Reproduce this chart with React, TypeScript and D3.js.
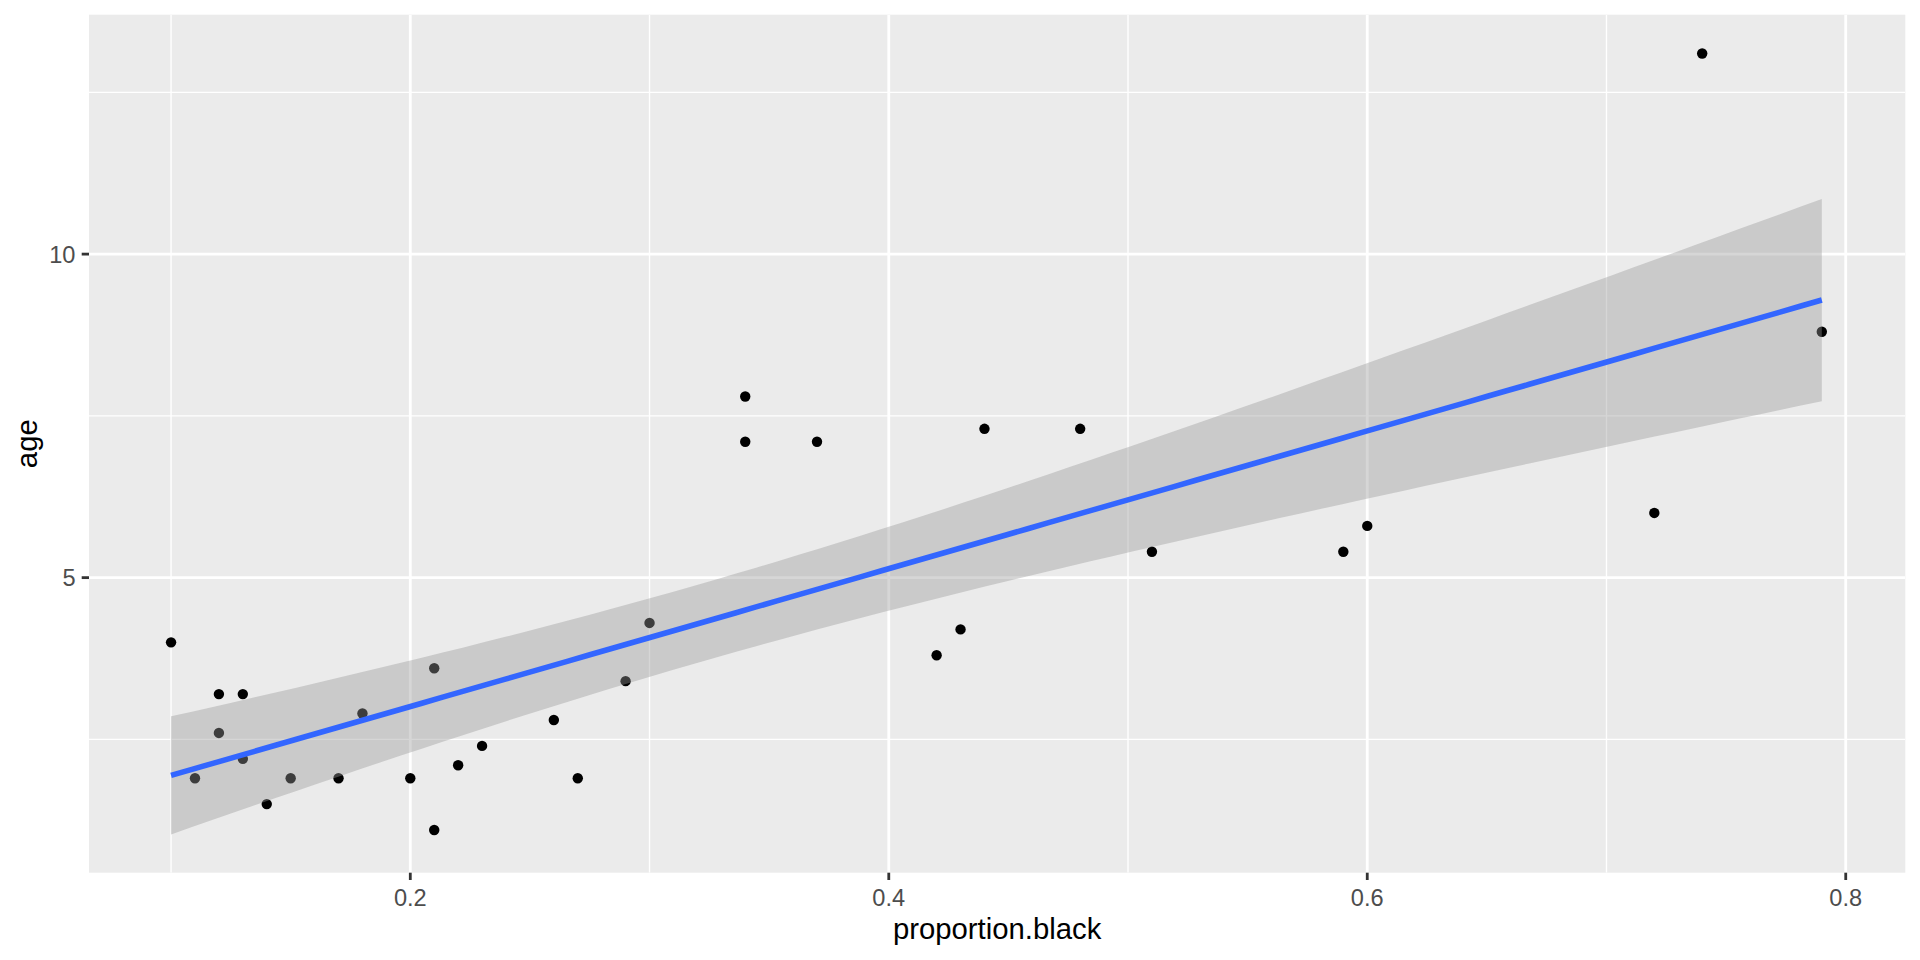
import React from 'react';
import * as d3 from 'd3';

// ---- data ----
const proportionBlack = [
  0.10, 0.11, 0.12, 0.12, 0.13, 0.13, 0.14, 0.15, 0.17, 0.18,
  0.20, 0.21, 0.21, 0.22, 0.23, 0.26, 0.27, 0.29, 0.30, 0.34,
  0.34, 0.37, 0.42, 0.43, 0.44, 0.48, 0.51, 0.59, 0.60, 0.72,
  0.74, 0.79,
];
const age = [
  4.0, 1.9, 3.2, 2.6, 3.2, 2.2, 1.5, 1.9, 1.9, 2.9,
  1.9, 3.6, 1.1, 2.1, 2.4, 2.8, 1.9, 3.4, 4.3, 7.8,
  7.1, 7.1, 3.8, 4.2, 7.3, 7.3, 5.4, 5.4, 5.8, 6.0,
  13.1, 8.8,
];

const xBreaks = [0.2, 0.4, 0.6, 0.8];
const xLabels = ['0.2', '0.4', '0.6', '0.8'];
const xMinorBreaks = [0.1, 0.3, 0.5, 0.7];
const yBreaks = [5, 10];
const yLabels = ['5', '10'];
const yMinorBreaks = [2.5, 7.5, 12.5];

const xTitle = 'proportion.black';
const yTitle = 'age';

const xDomain = [0.0657, 0.8249];
const yDomain = [0.44, 13.7];

// t quantile 0.975 for df = n - 2 = 30
const T975 = 2.0423;

const W = 1920;
const H = 960;
const panel = { left: 89, top: 14.7, right: 1905.3, bottom: 872.7 };
const FONT = '"Liberation Sans", Arial, Helvetica, sans-serif';

function lmBand(xs: number[], ys: number[], nPts = 80) {
  const n = xs.length;
  const mx = d3.mean(xs) as number;
  const my = d3.mean(ys) as number;
  let sxx = 0;
  let sxy = 0;
  for (let i = 0; i < n; i++) {
    sxx += (xs[i] - mx) ** 2;
    sxy += (xs[i] - mx) * (ys[i] - my);
  }
  const b = sxy / sxx;
  const a = my - b * mx;
  let rss = 0;
  for (let i = 0; i < n; i++) rss += (ys[i] - a - b * xs[i]) ** 2;
  const s = Math.sqrt(rss / (n - 2));
  const [lo, hi] = d3.extent(xs) as [number, number];
  return d3.range(nPts).map((i) => {
    const x = lo + ((hi - lo) * i) / (nPts - 1);
    const fit = a + b * x;
    const se = s * Math.sqrt(1 / n + (x - mx) ** 2 / sxx);
    return { x, fit, ymin: fit - T975 * se, ymax: fit + T975 * se };
  });
}

export default function App() {
  const x = d3.scaleLinear().domain(xDomain).range([panel.left, panel.right]);
  const y = d3.scaleLinear().domain(yDomain).range([panel.bottom, panel.top]);
  const band = lmBand(proportionBlack, age);

  const area = d3
    .area<{ x: number; fit: number; ymin: number; ymax: number }>()
    .x((d) => x(d.x))
    .y0((d) => y(d.ymin))
    .y1((d) => y(d.ymax));
  const line = d3
    .line<{ x: number; fit: number }>()
    .x((d) => x(d.x))
    .y((d) => y(d.fit));

  const pw = panel.right - panel.left;
  const ph = panel.bottom - panel.top;

  return (
    <svg
      width={W}
      height={H}
      viewBox={`0 0 ${W} ${H}`}
      style={{ position: 'absolute', left: 0, top: 0, background: '#FFFFFF' }}
    >
      <defs>
        <clipPath id="panelClip">
          <rect x={panel.left} y={panel.top} width={pw} height={ph} />
        </clipPath>
      </defs>
      <rect x={0} y={0} width={W} height={H} fill="#FFFFFF" />
      <rect x={panel.left} y={panel.top} width={pw} height={ph} fill="#EBEBEB" />

      <g clipPath="url(#panelClip)">
        {yMinorBreaks.map((v) => (
          <line key={'ym' + v} x1={panel.left} x2={panel.right} y1={y(v)} y2={y(v)} stroke="#FFFFFF" strokeWidth={1.4} />
        ))}
        {xMinorBreaks.map((v) => (
          <line key={'xm' + v} x1={x(v)} x2={x(v)} y1={panel.top} y2={panel.bottom} stroke="#FFFFFF" strokeWidth={1.4} />
        ))}
        {yBreaks.map((v) => (
          <line key={'yM' + v} x1={panel.left} x2={panel.right} y1={y(v)} y2={y(v)} stroke="#FFFFFF" strokeWidth={2.8} />
        ))}
        {xBreaks.map((v) => (
          <line key={'xM' + v} x1={x(v)} x2={x(v)} y1={panel.top} y2={panel.bottom} stroke="#FFFFFF" strokeWidth={2.8} />
        ))}

        {proportionBlack.map((px, i) => (
          <circle key={'p' + i} cx={x(px)} cy={y(age[i])} r={5.2} fill="#000000" />
        ))}

        <path d={area(band) || ''} fill="#999999" fillOpacity={0.4} stroke="none" />
        <path d={line(band) || ''} fill="none" stroke="#3366FF" strokeWidth={5.6} />
      </g>

      {/* y axis ticks and labels */}
      {yBreaks.map((v, i) => (
        <g key={'yt' + v}>
          <line x1={panel.left - 7.3} x2={panel.left} y1={y(v)} y2={y(v)} stroke="#333333" strokeWidth={2.8} />
          <text
            x={panel.left - 13.5}
            y={y(v) + 8.6}
            textAnchor="end"
            fontFamily={FONT}
            fontSize={23.6}
            fill="#4D4D4D"
          >
            {yLabels[i]}
          </text>
        </g>
      ))}

      {/* x axis ticks and labels */}
      {xBreaks.map((v, i) => (
        <g key={'xt' + v}>
          <line x1={x(v)} x2={x(v)} y1={panel.bottom} y2={panel.bottom + 7.3} stroke="#333333" strokeWidth={2.8} />
          <text
            x={x(v)}
            y={906}
            textAnchor="middle"
            fontFamily={FONT}
            fontSize={23.6}
            fill="#4D4D4D"
          >
            {xLabels[i]}
          </text>
        </g>
      ))}

      <text
        x={(panel.left + panel.right) / 2}
        y={939}
        textAnchor="middle"
        fontFamily={FONT}
        fontSize={29.3}
        fill="#000000"
      >
        {xTitle}
      </text>
      <text
        transform={`translate(37, ${(panel.top + panel.bottom) / 2}) rotate(-90)`}
        textAnchor="middle"
        fontFamily={FONT}
        fontSize={29.3}
        fill="#000000"
      >
        {yTitle}
      </text>
    </svg>
  );
}
